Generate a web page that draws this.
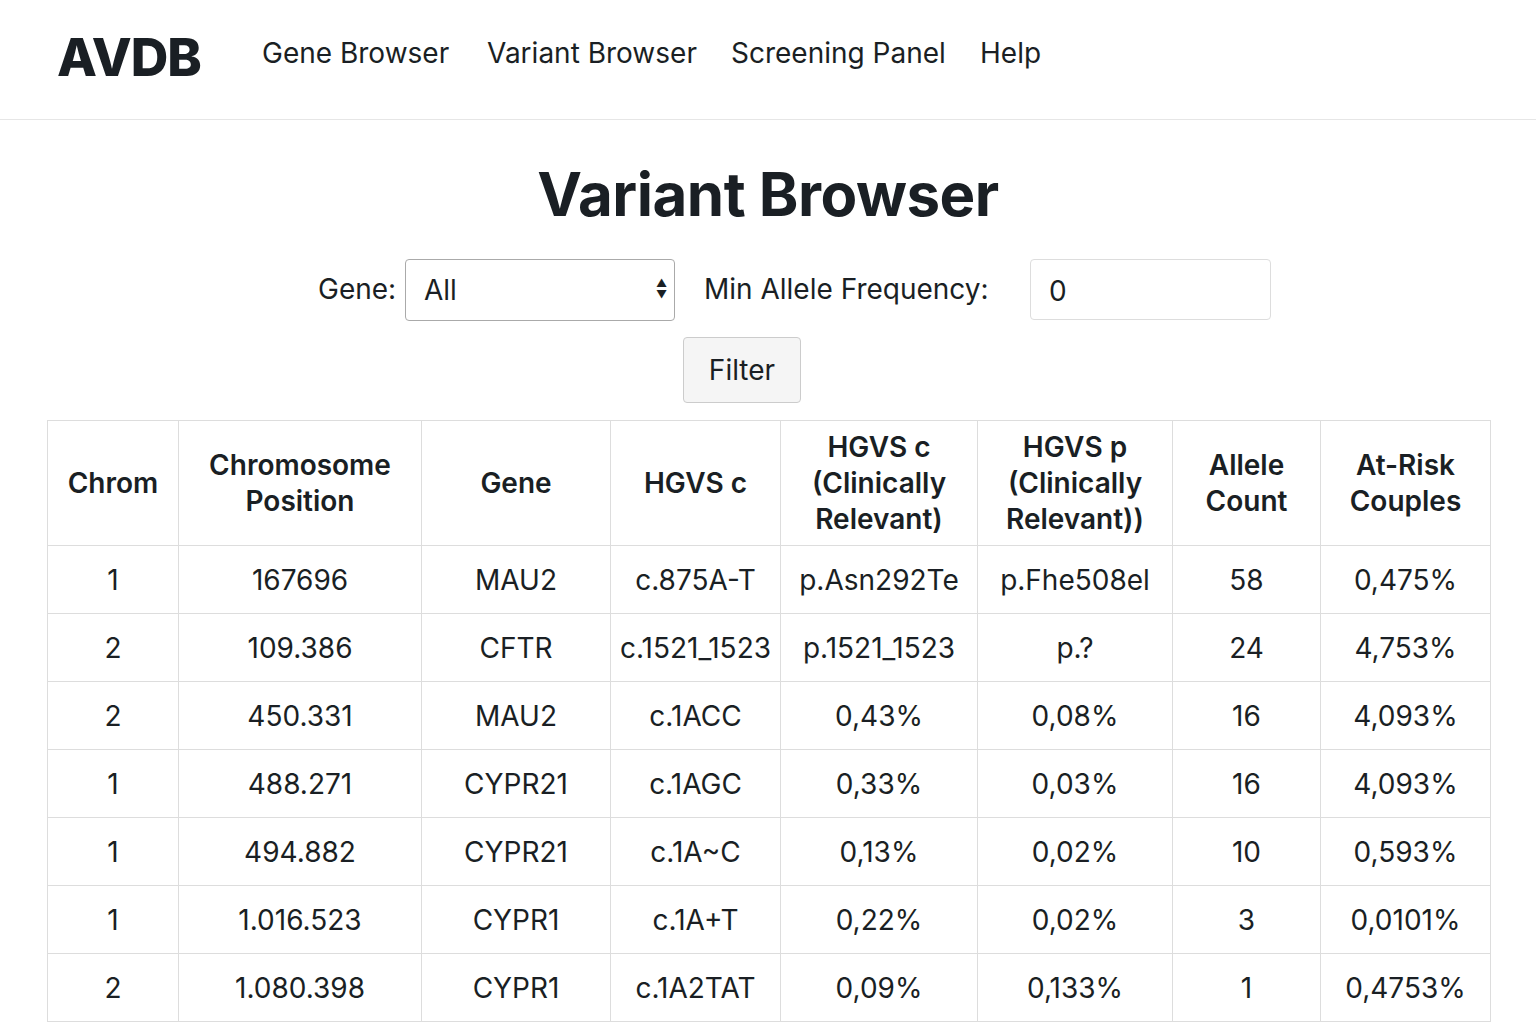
<!DOCTYPE html>
<html><head><meta charset="utf-8">
<script src="https://cdn.jsdelivr.net/npm/chart.js@4"></script>
<style>
body{margin:0;font-family:Inter,"Noto Sans",sans-serif;color:#1a1f24;background:#fff;width:1536px;height:1024px;overflow:hidden}
.hdr{height:119px;border-bottom:1px solid #e6e6e6;position:relative}
.logo{position:absolute;left:57px;top:26px;font-size:52px;font-weight:800;letter-spacing:-1px}
.nav{position:absolute;top:36px;font-size:28px}
h1{position:absolute;top:158px;left:0;width:1536px;text-align:center;margin:0;font-size:60px;font-weight:700;letter-spacing:-0.5px}
.lbl{position:absolute;font-size:28px;top:272px}
.sel{position:absolute;left:405px;top:259px;width:270px;height:62px;border:1.5px solid #aaa;border-radius:4px;box-sizing:border-box;font-size:28px;padding:13px 18px}
.arr{position:absolute;left:656px;top:278px;font-size:11px;line-height:11px}
.inp{position:absolute;left:1030px;top:259px;width:241px;height:61px;border:1px solid #ddd;border-radius:4px;box-sizing:border-box;font-size:28px;padding:14px 18px}
.btn{position:absolute;left:683px;top:337px;width:118px;height:66px;border:1px solid #ccc;border-radius:4px;background:#f5f5f5;box-sizing:border-box;font-size:28px;text-align:center;line-height:64px}
table{position:absolute;left:47px;top:420px;border-collapse:collapse;font-size:28px;border:1px solid #ddd;table-layout:fixed;width:1443px}
td,th{border:1px solid #ddd;text-align:center;padding:0;white-space:nowrap;overflow:visible}
th{font-weight:600;height:124px;line-height:36px}
td{height:67px}
</style></head><body>
<div class="hdr"><div class="logo">AVDB</div>
<div class="nav" style="left:262px">Gene Browser</div>
<div class="nav" style="left:487px">Variant Browser</div>
<div class="nav" style="left:731px">Screening Panel</div>
<div class="nav" style="left:980px">Help</div></div>
<h1>Variant Browser</h1>
<div class="lbl" style="left:318px">Gene:</div>
<div class="sel">All</div>
<div class="arr">▲<br>▼</div>
<div class="lbl" style="left:704px">Min Allele Frequency:</div>
<div class="inp">0</div>
<div class="btn">Filter</div>
<table id="t"></table>
<script>
const headers=["Chrom","Chromosome<br>Position","Gene","HGVS c","HGVS c<br>(Clinically<br>Relevant)","HGVS p<br>(Clinically<br>Relevant))","Allele<br>Count","At-Risk<br>Couples"];
const widths=[131,243,189,170,197,195,148,170];
const chrom=["1","2","2","1","1","1","2"];
const position=["167696","109.386","450.331","488.271","494.882","1.016.523","1.080.398"];
const gene=["MAU2","CFTR","MAU2","CYPR21","CYPR21","CYPR1","CYPR1"];
const hgvsC=["c.875A-T","c.1521_1523","c.1ACC","c.1AGC","c.1A~C","c.1A+T","c.1A2TAT"];
const hgvsCRel=["p.Asn292Te","p.1521_1523","0,43%","0,33%","0,13%","0,22%","0,09%"];
const hgvsPRel=["p.Fhe508el","p.?","0,08%","0,03%","0,02%","0,02%","0,133%"];
const alleleCount=["58","24","16","16","10","3","1"];
const atRisk=["0,475%","4,753%","4,093%","4,093%","0,593%","0,0101%","0,4753%"];
const t=document.getElementById('t');
let h='<colgroup>'+widths.map(w=>`<col style="width:${w}px">`).join('')+'</colgroup>';
h+='<tr>'+headers.map(x=>`<th>${x}</th>`).join('')+'</tr>';
for(let i=0;i<chrom.length;i++){
 h+='<tr>'+[chrom[i],position[i],gene[i],hgvsC[i],hgvsCRel[i],hgvsPRel[i],alleleCount[i],atRisk[i]].map(v=>`<td>${v}</td>`).join('')+'</tr>';
}
t.innerHTML=h;
</script>
</body></html>
